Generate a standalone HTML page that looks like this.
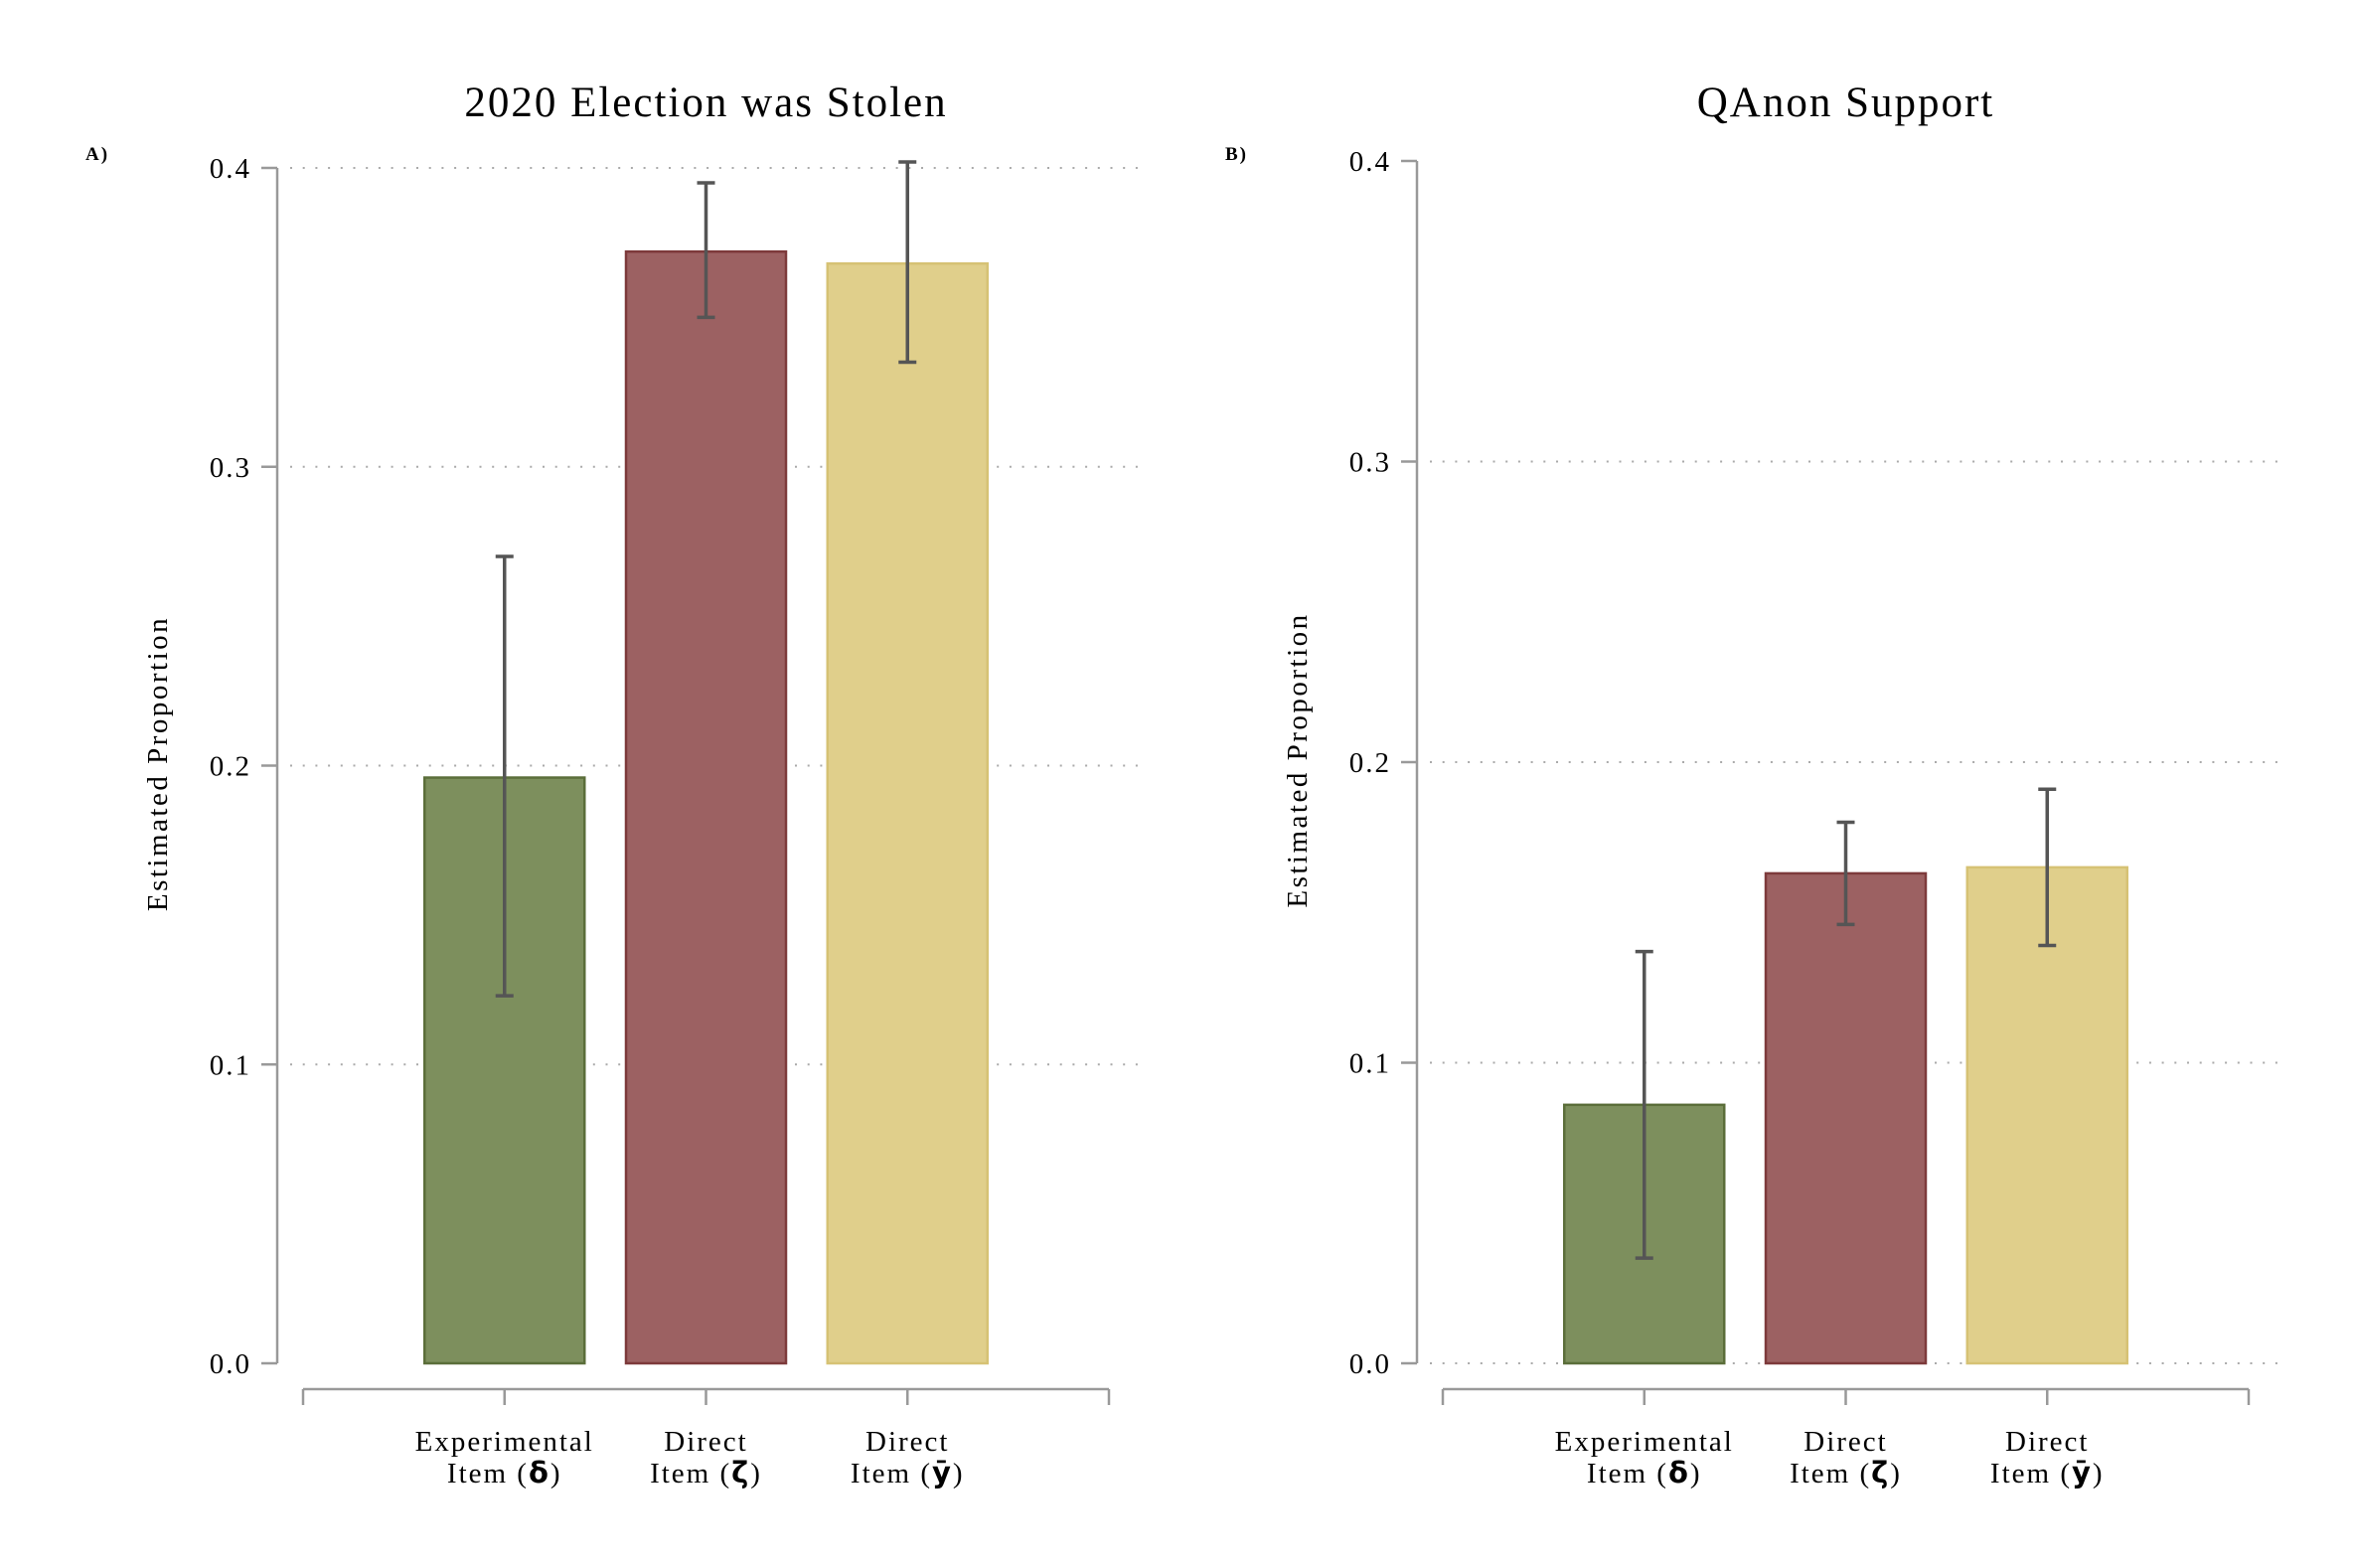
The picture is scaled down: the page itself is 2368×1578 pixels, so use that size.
<!DOCTYPE html>
<html><head><meta charset="utf-8"><style>
body{margin:0;background:#fff}
svg{display:block;font-family:"Liberation Serif","DejaVu Serif",serif}
</style></head><body>
<svg id="chart" width="2368" height="1578" viewBox="0 0 2368 1578"></svg>
<script>
const categories = ["Experimental|Item (|δ|)", "Direct|Item (|ζ|)", "Direct|Item (|ȳ|)"];
const titles = ["2020 Election was Stolen", "QAnon Support"];
const panelLetters = ["A)", "B)"];
const valuesA = [0.196, 0.372, 0.368];
const lowA = [0.123, 0.350, 0.335];
const highA = [0.270, 0.395, 0.402];
const valuesB = [0.086, 0.163, 0.165];
const lowB = [0.035, 0.146, 0.139];
const highB = [0.137, 0.180, 0.191];
const yTicks = [0, 0.1, 0.2, 0.3, 0.4];
const yTickLabels = ["0.0", "0.1", "0.2", "0.3", "0.4"];
const gridA = [0.1, 0.2, 0.3, 0.4];
const gridB = [0, 0.1, 0.2, 0.3];

const NS = "http://www.w3.org/2000/svg";
const svg = document.getElementById("chart");
const fills = ["#7d8f5d", "#9c6162", "#e0cf8b"];
const strokes = ["#5b6e3a", "#7d3a3b", "#d6c274"];

function mk(tag, attrs, parent, text) {
  const e = document.createElementNS(NS, tag);
  for (const k in attrs) e.setAttribute(k, attrs[k]);
  if (text !== undefined) e.textContent = text;
  (parent || svg).appendChild(e);
  return e;
}

function panel(p, ox, top, vals, lo, hi, grid) {
  const g = mk("g", {});
  
  
  const y0 = 1372, per = (y0 - top) / 0.4;
  const y = v => y0 - v * per;
  const axX = ox, gridL = ox + 13, gridR = ox + 868;
  const xL = ox + 26, xR = ox + 837;
  const centers = [0, 1, 2].map(i => xL + (xR - xL) * (i + 1) / 4);
  const x = i => centers[i];
  const bw = 161;
  const t = mk("text", {x: (xL + xR) / 2, y: 117, "text-anchor": "middle", "font-size": 43, "letter-spacing": 2, fill: "#000"}, g, titles[p]);
  
  
  const pl = mk("text", {x: ox - 193, y: 161, "font-size": 19, "font-weight": "bold", "letter-spacing": 2, fill: "#000"}, g, panelLetters[p]);
  
  
  grid.forEach(v => {
    const gl = mk("line", {x1: gridL, x2: gridR, y1: y(v), y2: y(v), stroke: "#aaa", "stroke-width": 2, "stroke-dasharray": "2 10.7"}, g);
    
    
  });
  const ya = mk("line", {x1: axX, x2: axX, y1: y(0.4), y2: y(0), stroke: "#999", "stroke-width": 2.5}, g);
  
  
  yTicks.forEach((v, i) => {
    mk("line", {x1: axX - 16, x2: axX, y1: y(v), y2: y(v), stroke: "#999", "stroke-width": 2.5}, g);
    const tl = mk("text", {x: axX - 26, y: y(v) + 10, "text-anchor": "end", "font-size": 29, "letter-spacing": 2, fill: "#000"}, g, yTickLabels[i]);
    
    
  });
  const yt = mk("text", {transform: `translate(${ox - 111},${(y(0) + y(0.4)) / 2 - 2}) rotate(-90)`, "text-anchor": "middle", "font-size": 29, "letter-spacing": 2.5, fill: "#000"}, g, "Estimated Proportion");
  
  
  const xa = mk("line", {x1: xL, x2: xR, y1: 1398, y2: 1398, stroke: "#999", "stroke-width": 2.5}, g);
  
  
  [xL, centers[0], centers[1], centers[2], xR].forEach(cx => mk("line", {x1: cx, x2: cx, y1: 1398, y2: 1414, stroke: "#999", "stroke-width": 2.5}, g));
  categories.forEach((c, i) => {
    const parts = c.split("|");
    const l = mk("text", {x: x(i), y: 1460, "text-anchor": "middle", "font-size": 29, "letter-spacing": 2, fill: "#000"}, g);
    
    
    mk("tspan", {x: x(i), dy: 0}, l, parts[0]);
    mk("tspan", {x: x(i), dy: 32}, l, parts[1]);
    mk("tspan", {"font-weight": "bold", "font-family": "DejaVu Sans, sans-serif"}, l, parts[2]);
    mk("tspan", {}, l, parts[3]);
  });
  vals.forEach((v, i) => {
    const b = mk("rect", {x: x(i) - bw / 2, y: y(v), width: bw, height: y(0) - y(v), fill: fills[i], stroke: strokes[i], "stroke-width": 2.5}, g);
    
    
  });
  vals.forEach((v, i) => {
    const e = mk("g", {stroke: "#555", "stroke-width": 3.5}, g);
    
    
    mk("line", {x1: x(i), x2: x(i), y1: y(hi[i]), y2: y(lo[i])}, e);
    mk("line", {x1: x(i) - 9, x2: x(i) + 9, y1: y(hi[i]), y2: y(hi[i])}, e);
    mk("line", {x1: x(i) - 9, x2: x(i) + 9, y1: y(lo[i]), y2: y(lo[i])}, e);
  });
}
panel(0, 279, 169, valuesA, lowA, highA, gridA);
panel(1, 1426, 162, valuesB, lowB, highB, gridB);
</script>
</body></html>
